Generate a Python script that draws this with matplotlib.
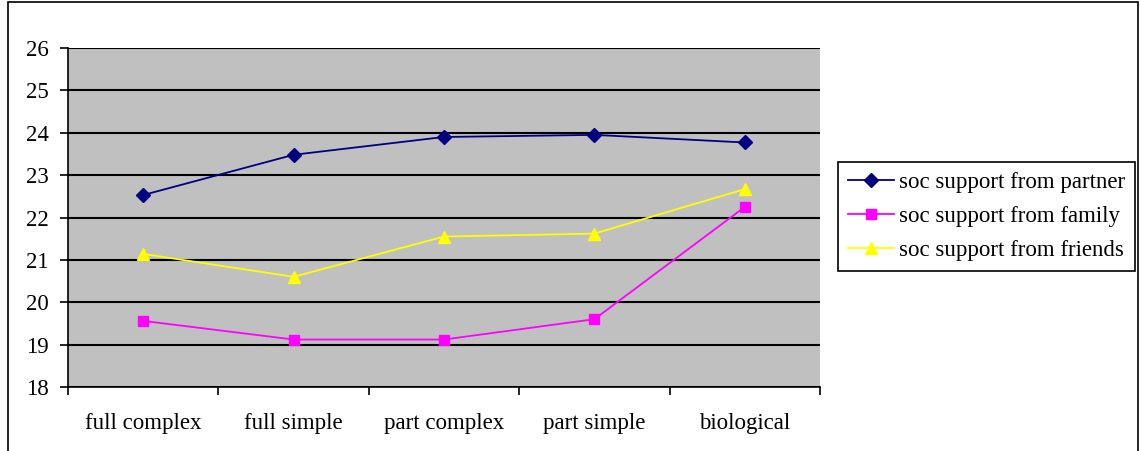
import matplotlib.pyplot as plt
import numpy as np
from matplotlib.patches import Rectangle

categories = ['full complex', 'full simple', 'part complex', 'part simple', 'biological']
partner = [22.53, 23.48, 23.9, 23.95, 23.77]
family = [19.56, 19.12, 19.12, 19.6, 22.25]
friends = [21.14, 20.6, 21.55, 21.62, 22.67]
labels = ['soc support from partner', 'soc support from family', 'soc support from friends']

plt.rcParams['font.family'] = ['Liberation Serif', 'DejaVu Serif']

fig = plt.figure(figsize=(11.4, 4.51), dpi=100)
fig.patches.append(Rectangle((8/1140, -0.02), 1 - 10/1140, 1.02 - 1.5/451, transform=fig.transFigure,
                             fill=False, edgecolor='black', linewidth=1.2))
ax = fig.add_axes([68/1140, 1 - 387/451, (820 - 68)/1140, (387 - 48)/451])
ax.set_facecolor('#C0C0C0')

x = np.arange(len(categories)) + 0.5
ax.plot(x, partner, color='#000080', marker='D', markersize=7, linewidth=1.3, label=labels[0])
ax.plot(x, family, color='#FF00FF', marker='s', markersize=7, linewidth=1.3, label=labels[1])
ax.plot(x, friends, color='#FFFF00', marker='^', markersize=8, linewidth=1.3, label=labels[2])

ax.set_xlim(0, len(categories))
ax.set_ylim(18, 26)
ax.set_yticks(range(18, 27))
ax.yaxis.grid(True, color='black', linewidth=1.5)
ax.set_axisbelow(True)

ax.set_xticks(range(len(categories) + 1))
ax.set_xticklabels([])
ax.set_xticks(x, minor=True)
ax.set_xticklabels(categories, minor=True)
ax.tick_params(axis='x', which='minor', length=0, pad=19, labelsize=16.5)
ax.tick_params(axis='x', which='major', length=6, width=1.2, direction='out')
ax.tick_params(axis='y', length=6, width=1.2, direction='out', labelsize=16.5, pad=8)

for s in ['top', 'right']:
    ax.spines[s].set_visible(False)
for s in ['left', 'bottom']:
    ax.spines[s].set_linewidth(1.2)

leg = ax.legend(loc='upper left', bbox_to_anchor=(838/1140, 1 - 162/451), bbox_transform=fig.transFigure,
                fontsize=16.5, frameon=True, fancybox=False, edgecolor='black', framealpha=1,
                borderpad=0.45, handlelength=2.0, handletextpad=0.2, labelspacing=0.55,
                borderaxespad=0)
leg.get_frame().set_linewidth(1.2)

fig.savefig('out.png', dpi=100)
